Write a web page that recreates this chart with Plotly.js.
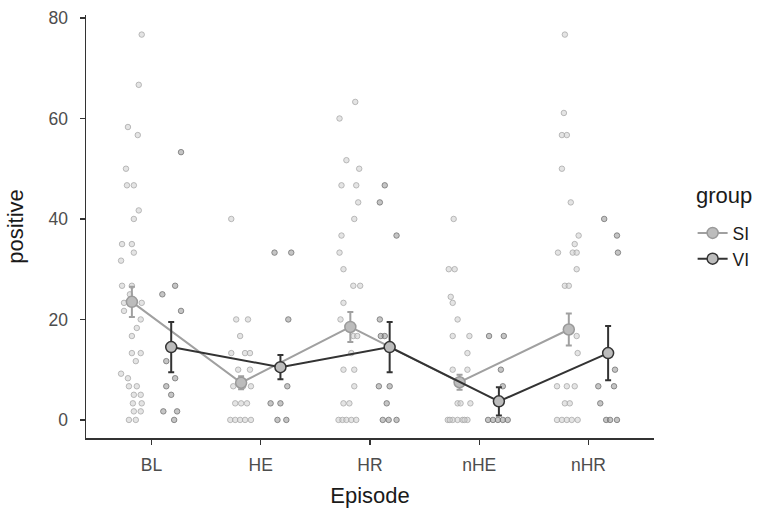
<!DOCTYPE html>
<html>
<head>
<meta charset="utf-8">
<script src="https://cdn.plot.ly/plotly-3.0.1.min.js"></script>
<style>
  html, body { margin: 0; padding: 0; background: #ffffff; }
  #chart { width: 767px; height: 516px; }
</style>
</head>
<body>
<div id="chart"></div>
<script>
// ---------------- data ----------------
const episodes = ["BL", "HE", "HR", "nHE", "nHR"];
const groups = ["SI", "VI"];

// group means and standard errors per episode
const siMean = [23.5, 7.4, 18.5, 7.5, 18.0];
const siSE   = [3.0, 1.3, 3.0, 1.5, 3.2];
const viMean = [14.5, 10.5, 14.5, 3.7, 13.3];
const viSE   = [5.0, 2.4, 5.0, 2.8, 5.4];

// individual observations (one list per episode)
const siValues = [
  [76.7,66.7,58.3,56.7,50,46.7,46.7,41.7,40,35,35,33.3,31.7,26.7,26.7,25,23.3,23.3,21.7,20,18.3,16.7,13.3,13.3,11.7,9.2,8.3,6.7,6.7,5,5,3.3,3.3,1.7,1.7,0,0],
  [40,20,20,16.7,13.3,13.3,13.3,10,10,6.7,6.7,6.7,3.3,3.3,3.3,0,0,0,0,0],
  [63.3,60,51.7,50,46.7,46.7,43.3,40,36.7,33.3,30,26.7,26.7,23.3,20,16.7,16.7,13.3,10,10,6.7,3.3,3.3,0,0,0,0,0],
  [40,30,30,24.5,23.3,20,16.7,16.7,13.3,10,10,3.3,3.3,3.3,0,0,0,0,0,0,0],
  [76.7,61.1,56.7,56.7,50,43.3,36.7,35,33.3,33.3,33.3,30,26.7,26.7,16.7,13.3,6.7,6.7,6.7,3.3,3.3,0,0,0,0,0]
];
const viValues = [
  [53.3,26.7,25,21.7,11.7,8.3,6.7,5,1.7,1.7,0],
  [33.3,33.3,20,6.7,3.3,3.3,0,0],
  [46.7,43.3,36.7,20,16.7,16.7,6.7,6.7,3.3,0,0,0],
  [16.7,16.7,10,6.7,0,0,0,0,0],
  [40,36.7,33.3,10,6.7,6.7,3.3,0,0,0]
];

const siJitter = [
  [0.10,0.07,-0.04,0.06,-0.06,-0.05,0.02,0.07,0.02,-0.10,0,0.02,-0.11,-0.10,0,-0.02,-0.08,0.10,-0.08,0.09,0.05,0,0,0.09,0.04,-0.11,-0.04,-0.03,0.05,0.02,0.09,0.01,0.10,0.02,0.09,-0.03,0.04],
  [-0.10,-0.05,0.07,-0.01,-0.10,0.04,0.09,-0.03,0.09,-0.08,0.02,0.10,-0.06,0,0.06,-0.11,-0.06,-0.01,0.04,0.10],
  [0.05,-0.11,-0.04,0.09,-0.09,0.06,0.08,0.04,-0.09,-0.11,-0.07,0.03,0.10,-0.07,-0.10,0.03,0.07,0.01,-0.07,0.04,0.04,-0.07,-0.01,-0.12,-0.08,-0.04,0.01,0.06],
  [-0.06,-0.11,-0.05,-0.09,-0.07,-0.02,-0.07,0.10,0.08,-0.07,0.08,-0.02,0.01,0.11,-0.12,-0.07,-0.02,0.03,0.08,-0.10,0.05],
  [-0.04,-0.05,-0.07,-0.02,-0.07,0.02,0.10,0.06,-0.11,0.04,0.08,0.08,-0.04,0,0.08,0.09,-0.12,-0.02,0.06,-0.04,0.01,-0.12,-0.07,-0.02,0.03,0.09]
];
const viJitter = [
  [0.10,0.04,-0.09,0.10,-0.05,0.04,-0.05,0,-0.08,0.06,0.03],
  [-0.06,0.11,0.08,0.07,-0.10,0,-0.03,0.06],
  [-0.05,-0.10,0.07,-0.10,-0.09,-0.05,-0.11,0,-0.03,-0.07,-0.01,0.07],
  [-0.10,0.05,0.02,0.04,-0.11,-0.06,-0.01,0.04,0.09],
  [-0.04,0.09,0.10,0.07,-0.10,0.06,-0.08,-0.02,0.02,0.09]
];

// ---------------- layout helpers ----------------
const tickPos = episodes.map((e, i) => i + 1);
const dodge = 0.18;          // half distance between SI and VI within an episode
const jitterScale = 0.9;
function center(i, g) { return tickPos[i] + (g === 0 ? -dodge : dodge); }

function jitterTrace(values, jitter, g, fill, edge) {
  const xs = [], ys = [];
  values.forEach((arr, i) => {
    arr.forEach((v, k) => { xs.push(center(i, g) + jitter[i][k] * jitterScale); ys.push(v); });
  });
  return {
    type: "scatter", mode: "markers", x: xs, y: ys, showlegend: false, hoverinfo: "skip",
    marker: { size: 5.5, color: fill, line: { color: edge, width: 1 } }
  };
}

function meanTrace(name, means, se, g, lineColor, edgeColor) {
  return {
    type: "scatter", mode: "lines+markers", name: name,
    x: means.map((m, i) => center(i, g)), y: means,
    line: { color: lineColor, width: 2 },
    marker: { size: 11, color: "#bcbcbc", line: { color: edgeColor, width: 1.5 } },
    error_y: { type: "data", array: se, visible: true, color: lineColor, thickness: 2, width: 3 }
  };
}

const traces = [
  jitterTrace(siValues, siJitter, 0, "rgba(205,205,205,0.55)", "rgba(165,165,165,0.75)"),
  jitterTrace(viValues, viJitter, 1, "rgba(150,150,150,0.55)", "rgba(110,110,110,0.75)"),
  meanTrace(groups[0], siMean, siSE, 0, "#a0a0a0", "#9a9a9a"),
  meanTrace(groups[1], viMean, viSE, 1, "#333333", "#333333")
];

const font = "Liberation Sans, Arial, sans-serif";
const layout = {
  width: 767, height: 516,
  margin: { l: 86, r: 107, t: 15, b: 78 },
  paper_bgcolor: "#ffffff", plot_bgcolor: "#ffffff",
  font: { family: font, color: "#4d4d4d" },
  xaxis: {
    range: [0.4, 5.6], tickvals: tickPos, ticktext: episodes,
    showline: true, linecolor: "#333333", linewidth: 1.5,
    ticks: "outside", ticklen: 5, tickcolor: "#333333", tickwidth: 1.2,
    ticklabelstandoff: 5,
    showgrid: false, zeroline: false,
    tickfont: { size: 17.5, color: "#4d4d4d" },
    title: { text: "Episode", font: { size: 22, color: "#1a1a1a" }, standoff: 14 }
  },
  yaxis: {
    range: [-3.6, 80.6], tickvals: [0, 20, 40, 60, 80],
    showline: true, linecolor: "#333333", linewidth: 1.5,
    ticks: "outside", ticklen: 5, tickcolor: "#333333", tickwidth: 1.2,
    ticklabelstandoff: 8,
    showgrid: false, zeroline: false,
    tickfont: { size: 17.5, color: "#4d4d4d" },
    title: { text: "positive", font: { size: 22, color: "#1a1a1a" }, standoff: 19 }
  },
  showlegend: true,
  legend: {
    font: { size: 17.5, color: "#1a1a1a" },
    x: 1.068, xanchor: "left", y: 0.527, yanchor: "top",
    bgcolor: "rgba(0,0,0,0)", itemwidth: 30, tracegroupgap: 0
  },
  annotations: [{
    text: "group", xref: "paper", yref: "paper", x: 1.0697, y: 0.574,
    xanchor: "left", yanchor: "middle", showarrow: false,
    font: { size: 22, color: "#1a1a1a", family: font }
  }]
};

Plotly.newPlot("chart", traces, layout, { displayModeBar: false, staticPlot: true });
</script>
</body>
</html>
